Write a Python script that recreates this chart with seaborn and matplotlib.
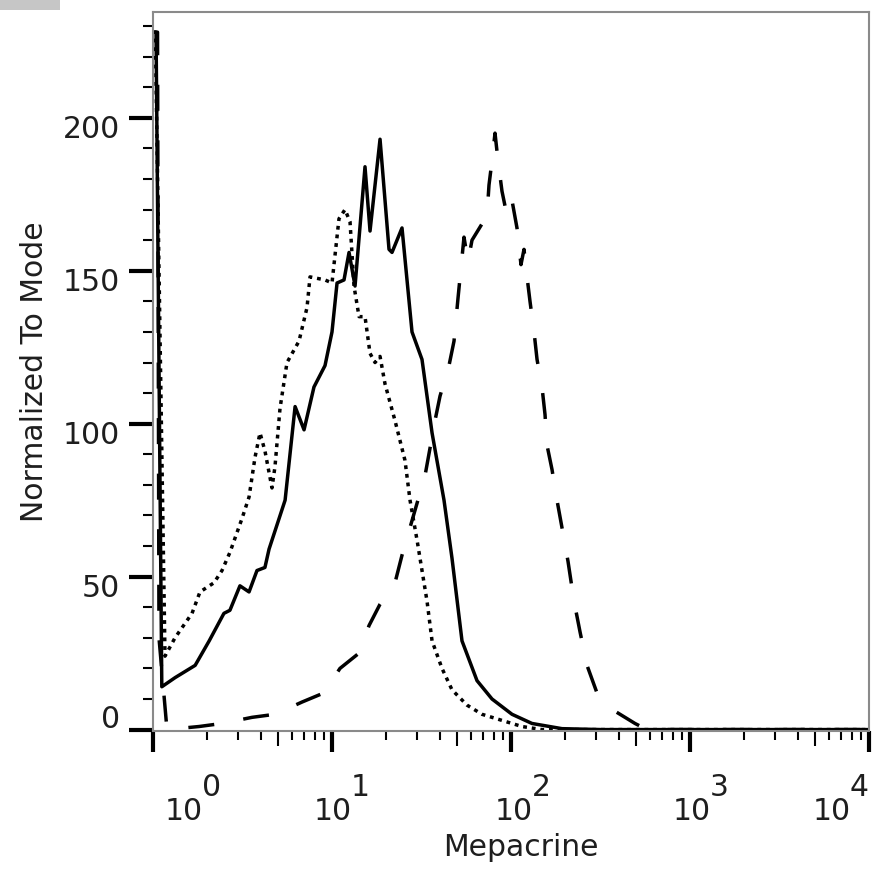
import numpy as np
import pandas as pd
import matplotlib
matplotlib.use("Agg")
import matplotlib.pyplot as plt
import seaborn as sns
from matplotlib.transforms import ScaledTranslation, blended_transform_factory
from matplotlib.patches import Rectangle
from matplotlib.ticker import FixedLocator, NullFormatter, NullLocator

# ---------------- data ----------------
solid_x = [1.01, 1.04, 1.12, 1.33, 1.72, 2.06, 2.49, 2.69, 3.06, 3.44,
           3.81, 4.22, 4.45, 5.47, 6.22, 6.98, 7.93, 9.14, 10.0, 10.67,
           11.67, 12.45, 13.45, 15.29, 16.31, 18.55, 20.82, 21.64, 24.61, 27.99,
           31.83, 36.22, 42.24, 46.82, 53.24, 64.58, 78.32, 101.3, 131.0, 192.7,
           322.4, 1167, 10000]
solid_y = [228, 228, 14, 17, 21, 29, 38, 39, 47, 45,
           52, 53, 59, 75, 105.6, 98, 112, 119, 130, 146,
           147, 156, 145, 184, 163, 193, 157, 156, 164, 130,
           121, 97, 75, 56, 29, 16, 10, 5, 2, 0.3,
           0, 0, 0]

dotted_x = [1.0, 1.03, 1.167, 1.327, 1.652, 1.830, 2.192, 2.429, 2.693, 3.142,
            3.439, 3.714, 3.961, 4.224, 4.621, 4.803, 5.123, 5.605, 6.542, 7.252,
            7.538, 9.140, 10.0, 10.94, 11.82, 12.61, 13.27, 14.16, 15.29, 16.31,
            17.39, 18.55, 19.78, 22.49, 25.57, 27.28, 29.85, 33.95, 36.22, 41.17,
            46.82, 56.79, 68.87, 89.06, 115.2, 149.0, 1167, 10000]
dotted_y = [228, 228, 24, 30, 38, 45, 48, 52, 58, 69,
            76, 89, 97, 91, 79, 86, 105, 120, 127, 138,
            148, 147, 146, 167, 170, 166, 145, 135, 135, 123,
            120, 122, 113, 101, 88, 75, 62, 42, 29, 20,
            13, 8, 5, 3, 1, 0, 0, 0]

dashed_x = [1.02, 1.06, 1.08, 1.197, 1.807, 2.429, 3.573, 4.803, 6.799, 9.022,
            11.08, 14.16, 16.10, 18.55, 22.49, 24.61, 33.08, 35.28, 37.62, 40.12,
            45.04, 48.04, 50.57, 54.63, 57.52, 60.55, 73.42, 75.34, 78.32, 81.41,
            84.61, 89.06, 95.00, 101.3, 108.0, 113.7, 118.2, 122.9, 127.7, 134.5,
            139.8, 149.0, 154.9, 158.9, 169.5, 180.7, 192.7, 208.2, 224.9, 242.9,
            265.9, 302.2, 343.9, 381.1, 433.5, 492.8, 575.2, 10000]
dashed_y = [228, 228, 30, 0, 1, 2, 4, 5, 9, 12,
            20, 25, 34, 41, 48, 57, 83, 92, 101, 109,
            119, 127, 141, 161, 153, 160, 168, 178, 186, 195,
            186, 176, 168, 173, 164, 152, 157, 148, 140, 130,
            121, 112, 103, 93, 85, 75, 66, 55, 42, 32,
            21, 12, 8, 6, 4, 2, 0, 0]

decade_exponents = [0, 1, 2, 3, 4]
y_major = [0, 50, 100, 150, 200]
y_minor = [10, 20, 30, 40, 60, 70, 80, 90, 110, 120, 130, 140,
           160, 170, 180, 190, 210, 220, 230]
x_label = "Mepacrine"
y_label = "Normalized To Mode"

# ---------------- figure ----------------
sns.set_theme(style="white")
plt.rcParams['font.family'] = ['DejaVu Sans']
FS = 21.5
TXT = '#1e1e1e'

fig = plt.figure(figsize=(8.73, 8.73), dpi=100)
ax = fig.add_axes([153 / 873, (873 - 730.5) / 873, 716 / 873, 718.5 / 873])

df = pd.concat([
    pd.DataFrame({'x': solid_x, 'y': solid_y, 'sample': 'solid'}),
    pd.DataFrame({'x': dotted_x, 'y': dotted_y, 'sample': 'dotted'}),
    pd.DataFrame({'x': dashed_x, 'y': dashed_y, 'sample': 'dashed'}),
], ignore_index=True)

sns.lineplot(data=df, x='x', y='y', style='sample',
             dashes={'solid': '', 'dotted': (1.1, 1.4), 'dashed': (7.5, 8.5)},
             color='black', lw=2.5, estimator=None, sort=False,
             legend=False, ax=ax)

ax.set_xscale('log')
ax.set_xlim(1, 10 ** 4)
ax.set_ylim(-0.3, 234.6)

for s in ax.spines.values():
    s.set_visible(True)
    s.set_color('#8a8a8a')
    s.set_linewidth(1.5)

# x ticks
decades = [10.0 ** k for k in decade_exponents]
minors = [m * 10.0 ** k for k in decade_exponents[:-1] for m in (2, 3, 4, 6, 7, 8, 9)]
fives = [5 * 10.0 ** k for k in decade_exponents[:-1]]
ax.xaxis.set_major_locator(FixedLocator(decades))
ax.xaxis.set_minor_locator(FixedLocator(minors))
ax.xaxis.set_major_formatter(NullFormatter())
ax.xaxis.set_minor_formatter(NullFormatter())
ax.tick_params(axis='x', which='major', bottom=True, direction='out',
               length=15, width=3, color='black')
ax.tick_params(axis='x', which='minor', bottom=True, direction='out',
               length=6.5, width=1.5, color='black')

sec = ax.secondary_xaxis('bottom')
sec.set_xticks(fives)
sec.xaxis.set_minor_locator(NullLocator())
sec.tick_params(axis='x', which='major', direction='out', length=10.5,
                width=1.5, color='black', labelbottom=False)
sec.spines['bottom'].set_visible(False)

# y ticks
ax.yaxis.set_major_locator(FixedLocator(y_major))
ax.yaxis.set_minor_locator(FixedLocator(y_minor))
ax.set_yticklabels([str(v) for v in y_major])
ax.tick_params(axis='y', which='major', left=True, direction='out',
               length=17, width=3, color='black', pad=7,
               labelsize=FS, labelcolor=TXT)
ax.tick_params(axis='y', which='minor', left=True, direction='out',
               length=7.5, width=1.5, color='black')
for v, tick in zip(y_major, ax.yaxis.get_major_ticks()):
    dy = 13 / 100 if v == 0 else -9 / 100
    lab = tick.label1
    lab.set_transform(lab.get_transform() + ScaledTranslation(0, dy, fig.dpi_scale_trans))

# x decade labels: "10" with raised exponent
blend = blended_transform_factory(ax.transData, ax.transAxes)
dx_base = {0: 31, 1: 1, 2: 3, 3: 2, 4: -37}
for k in decade_exponents:
    base_tr = blend + ScaledTranslation(dx_base[k] / 100, -89 / 100, fig.dpi_scale_trans)
    ax.text(10.0 ** k, 0, "10", transform=base_tr, ha='center', va='baseline',
            fontsize=FS, color=TXT, clip_on=False)
    exp_tr = blend + ScaledTranslation((dx_base[k] + 18) / 100, -65 / 100, fig.dpi_scale_trans)
    ax.text(10.0 ** k, 0, str(k), transform=exp_tr, ha='left', va='baseline',
            fontsize=FS, color=TXT, clip_on=False)

ax.set_xlabel(x_label, fontsize=FS, color=TXT)
ax.xaxis.set_label_coords((521 - 153) / 716, -0.143)
ax.set_ylabel(y_label, fontsize=FS, color=TXT)
ax.yaxis.set_label_coords(-0.145, 0.5)

fig.patches.append(Rectangle((0, 1 - 10 / 873), 60 / 873, 10 / 873,
                             transform=fig.transFigure, facecolor='#c6c6c6',
                             edgecolor='none'))

fig.savefig('out.png', dpi=100)
